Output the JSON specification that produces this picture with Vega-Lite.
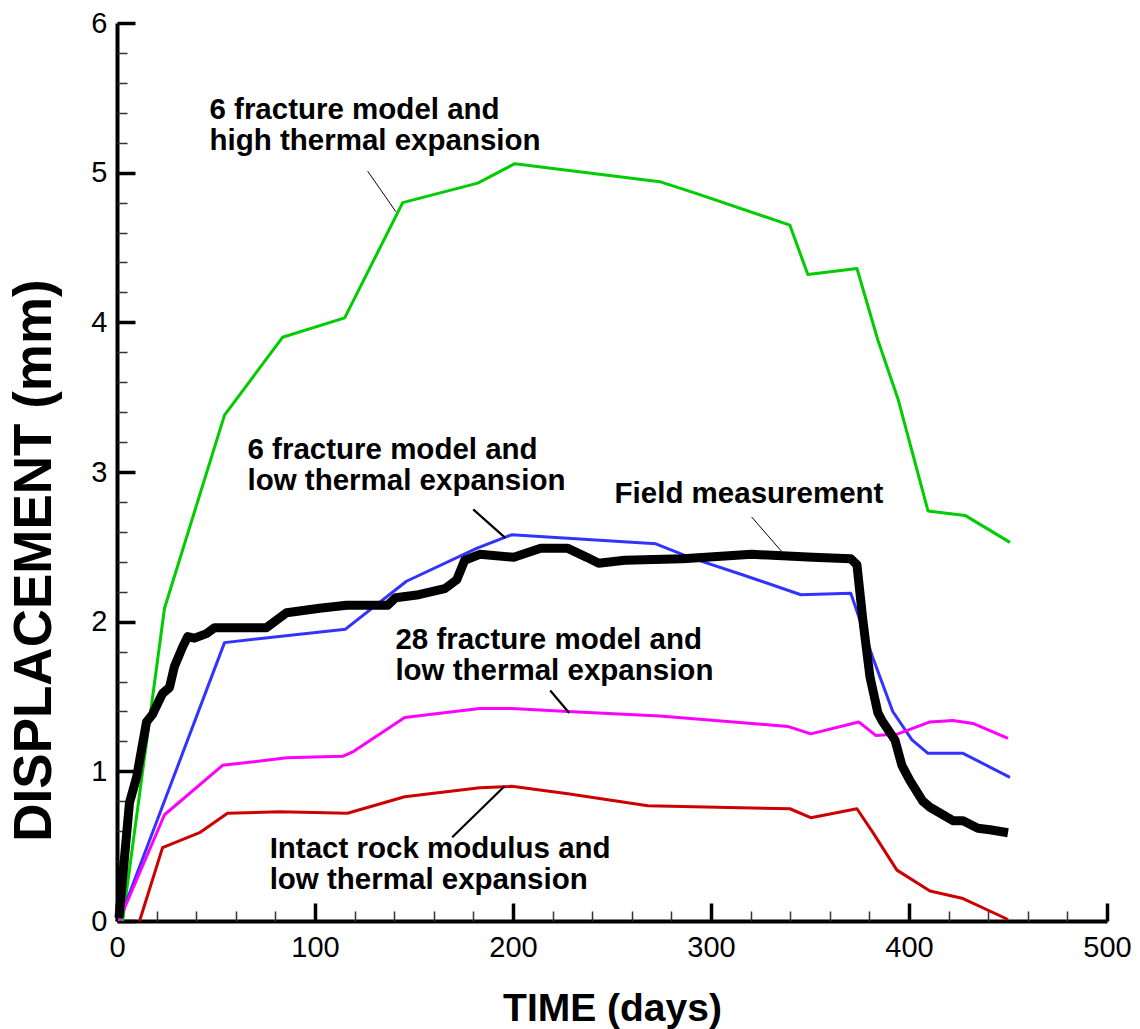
{
  "$schema": "https://vega.github.io/schema/vega-lite/v6.json",
  "width": 990,
  "height": 898,
  "autosize": "none",
  "padding": {"left": 117, "top": 23, "right": 33, "bottom": 108},
  "background": "white",
  "config": {"view": {"stroke": null}, "font": "Liberation Sans"},
  "datasets": {
    "curves": [
      {"series": "6 fracture, high thermal expansion", "day": 2.8, "mm": 0},
      {"series": "6 fracture, high thermal expansion", "day": 24, "mm": 2.09},
      {"series": "6 fracture, high thermal expansion", "day": 54.3, "mm": 3.38},
      {"series": "6 fracture, high thermal expansion", "day": 83.6, "mm": 3.9},
      {"series": "6 fracture, high thermal expansion", "day": 115, "mm": 4.03},
      {"series": "6 fracture, high thermal expansion", "day": 144.3, "mm": 4.8},
      {"series": "6 fracture, high thermal expansion", "day": 182.2, "mm": 4.93},
      {"series": "6 fracture, high thermal expansion", "day": 200.9, "mm": 5.06},
      {"series": "6 fracture, high thermal expansion", "day": 274.1, "mm": 4.94},
      {"series": "6 fracture, high thermal expansion", "day": 292.8, "mm": 4.86},
      {"series": "6 fracture, high thermal expansion", "day": 339.8, "mm": 4.65},
      {"series": "6 fracture, high thermal expansion", "day": 348.9, "mm": 4.32},
      {"series": "6 fracture, high thermal expansion", "day": 373.7, "mm": 4.36},
      {"series": "6 fracture, high thermal expansion", "day": 384.3, "mm": 3.88},
      {"series": "6 fracture, high thermal expansion", "day": 394.4, "mm": 3.49},
      {"series": "6 fracture, high thermal expansion", "day": 409.6, "mm": 2.74},
      {"series": "6 fracture, high thermal expansion", "day": 428.3, "mm": 2.71},
      {"series": "6 fracture, high thermal expansion", "day": 451, "mm": 2.53},

      {"series": "6 fracture, low thermal expansion", "day": 1, "mm": 0},
      {"series": "6 fracture, low thermal expansion", "day": 54.3, "mm": 1.86},
      {"series": "6 fracture, low thermal expansion", "day": 115.4, "mm": 1.95},
      {"series": "6 fracture, low thermal expansion", "day": 146.2, "mm": 2.27},
      {"series": "6 fracture, low thermal expansion", "day": 181.6, "mm": 2.49},
      {"series": "6 fracture, low thermal expansion", "day": 199.3, "mm": 2.58},
      {"series": "6 fracture, low thermal expansion", "day": 272.1, "mm": 2.52},
      {"series": "6 fracture, low thermal expansion", "day": 289.3, "mm": 2.43},
      {"series": "6 fracture, low thermal expansion", "day": 316.6, "mm": 2.31},
      {"series": "6 fracture, low thermal expansion", "day": 345.4, "mm": 2.18},
      {"series": "6 fracture, low thermal expansion", "day": 370.6, "mm": 2.19},
      {"series": "6 fracture, low thermal expansion", "day": 381.7, "mm": 1.76},
      {"series": "6 fracture, low thermal expansion", "day": 391.8, "mm": 1.4},
      {"series": "6 fracture, low thermal expansion", "day": 401.5, "mm": 1.21},
      {"series": "6 fracture, low thermal expansion", "day": 409.6, "mm": 1.12},
      {"series": "6 fracture, low thermal expansion", "day": 427.3, "mm": 1.12},
      {"series": "6 fracture, low thermal expansion", "day": 451, "mm": 0.96},

      {"series": "28 fracture, low thermal expansion", "day": 1, "mm": 0},
      {"series": "28 fracture, low thermal expansion", "day": 24, "mm": 0.71},
      {"series": "28 fracture, low thermal expansion", "day": 53.3, "mm": 1.04},
      {"series": "28 fracture, low thermal expansion", "day": 85.7, "mm": 1.09},
      {"series": "28 fracture, low thermal expansion", "day": 114, "mm": 1.1},
      {"series": "28 fracture, low thermal expansion", "day": 119, "mm": 1.13},
      {"series": "28 fracture, low thermal expansion", "day": 145.3, "mm": 1.36},
      {"series": "28 fracture, low thermal expansion", "day": 183.2, "mm": 1.42},
      {"series": "28 fracture, low thermal expansion", "day": 199.4, "mm": 1.42},
      {"series": "28 fracture, low thermal expansion", "day": 227.7, "mm": 1.4},
      {"series": "28 fracture, low thermal expansion", "day": 274.1, "mm": 1.37},
      {"series": "28 fracture, low thermal expansion", "day": 338.8, "mm": 1.3},
      {"series": "28 fracture, low thermal expansion", "day": 350.4, "mm": 1.25},
      {"series": "28 fracture, low thermal expansion", "day": 374.6, "mm": 1.33},
      {"series": "28 fracture, low thermal expansion", "day": 383.2, "mm": 1.24},
      {"series": "28 fracture, low thermal expansion", "day": 394.4, "mm": 1.25},
      {"series": "28 fracture, low thermal expansion", "day": 410.6, "mm": 1.33},
      {"series": "28 fracture, low thermal expansion", "day": 422.2, "mm": 1.34},
      {"series": "28 fracture, low thermal expansion", "day": 432.3, "mm": 1.32},
      {"series": "28 fracture, low thermal expansion", "day": 450, "mm": 1.22},

      {"series": "Intact rock modulus, low thermal expansion", "day": 11.4, "mm": 0},
      {"series": "Intact rock modulus, low thermal expansion", "day": 23, "mm": 0.49},
      {"series": "Intact rock modulus, low thermal expansion", "day": 41.7, "mm": 0.59},
      {"series": "Intact rock modulus, low thermal expansion", "day": 55.8, "mm": 0.72},
      {"series": "Intact rock modulus, low thermal expansion", "day": 82.1, "mm": 0.73},
      {"series": "Intact rock modulus, low thermal expansion", "day": 116.4, "mm": 0.72},
      {"series": "Intact rock modulus, low thermal expansion", "day": 145.3, "mm": 0.83},
      {"series": "Intact rock modulus, low thermal expansion", "day": 183.2, "mm": 0.89},
      {"series": "Intact rock modulus, low thermal expansion", "day": 199.4, "mm": 0.9},
      {"series": "Intact rock modulus, low thermal expansion", "day": 227.7, "mm": 0.85},
      {"series": "Intact rock modulus, low thermal expansion", "day": 268.1, "mm": 0.77},
      {"series": "Intact rock modulus, low thermal expansion", "day": 303, "mm": 0.76},
      {"series": "Intact rock modulus, low thermal expansion", "day": 339.8, "mm": 0.75},
      {"series": "Intact rock modulus, low thermal expansion", "day": 350.4, "mm": 0.69},
      {"series": "Intact rock modulus, low thermal expansion", "day": 373.7, "mm": 0.75},
      {"series": "Intact rock modulus, low thermal expansion", "day": 381.8, "mm": 0.59},
      {"series": "Intact rock modulus, low thermal expansion", "day": 393.9, "mm": 0.34},
      {"series": "Intact rock modulus, low thermal expansion", "day": 410.6, "mm": 0.2},
      {"series": "Intact rock modulus, low thermal expansion", "day": 427.3, "mm": 0.15},
      {"series": "Intact rock modulus, low thermal expansion", "day": 450, "mm": 0.01},

      {"series": "Field measurement", "day": 1, "mm": 0.02},
      {"series": "Field measurement", "day": 6.3, "mm": 0.79},
      {"series": "Field measurement", "day": 9.9, "mm": 0.96},
      {"series": "Field measurement", "day": 14.9, "mm": 1.33},
      {"series": "Field measurement", "day": 17.9, "mm": 1.38},
      {"series": "Field measurement", "day": 21.5, "mm": 1.48},
      {"series": "Field measurement", "day": 23, "mm": 1.52},
      {"series": "Field measurement", "day": 26.5, "mm": 1.56},
      {"series": "Field measurement", "day": 29, "mm": 1.7},
      {"series": "Field measurement", "day": 33.1, "mm": 1.83},
      {"series": "Field measurement", "day": 35.7, "mm": 1.9},
      {"series": "Field measurement", "day": 39.1, "mm": 1.89},
      {"series": "Field measurement", "day": 45.2, "mm": 1.92},
      {"series": "Field measurement", "day": 49.3, "mm": 1.96},
      {"series": "Field measurement", "day": 58.4, "mm": 1.96},
      {"series": "Field measurement", "day": 75.5, "mm": 1.96},
      {"series": "Field measurement", "day": 80.6, "mm": 2.01},
      {"series": "Field measurement", "day": 85.7, "mm": 2.06},
      {"series": "Field measurement", "day": 102.3, "mm": 2.09},
      {"series": "Field measurement", "day": 116, "mm": 2.11},
      {"series": "Field measurement", "day": 136.7, "mm": 2.11},
      {"series": "Field measurement", "day": 140.7, "mm": 2.16},
      {"series": "Field measurement", "day": 152.4, "mm": 2.18},
      {"series": "Field measurement", "day": 165.5, "mm": 2.22},
      {"series": "Field measurement", "day": 171.6, "mm": 2.28},
      {"series": "Field measurement", "day": 175.6, "mm": 2.41},
      {"series": "Field measurement", "day": 183.2, "mm": 2.45},
      {"series": "Field measurement", "day": 200.4, "mm": 2.43},
      {"series": "Field measurement", "day": 214, "mm": 2.49},
      {"series": "Field measurement", "day": 227.7, "mm": 2.49},
      {"series": "Field measurement", "day": 237.3, "mm": 2.43},
      {"series": "Field measurement", "day": 243.3, "mm": 2.39},
      {"series": "Field measurement", "day": 256.4, "mm": 2.41},
      {"series": "Field measurement", "day": 285.7, "mm": 2.42},
      {"series": "Field measurement", "day": 320.6, "mm": 2.45},
      {"series": "Field measurement", "day": 351.4, "mm": 2.43},
      {"series": "Field measurement", "day": 370.6, "mm": 2.42},
      {"series": "Field measurement", "day": 373.7, "mm": 2.38},
      {"series": "Field measurement", "day": 376.7, "mm": 2.01},
      {"series": "Field measurement", "day": 380.3, "mm": 1.63},
      {"series": "Field measurement", "day": 384.3, "mm": 1.39},
      {"series": "Field measurement", "day": 386.3, "mm": 1.34},
      {"series": "Field measurement", "day": 392.9, "mm": 1.21},
      {"series": "Field measurement", "day": 396.4, "mm": 1.04},
      {"series": "Field measurement", "day": 400.4, "mm": 0.94},
      {"series": "Field measurement", "day": 407, "mm": 0.8},
      {"series": "Field measurement", "day": 410.6, "mm": 0.76},
      {"series": "Field measurement", "day": 422.2, "mm": 0.67},
      {"series": "Field measurement", "day": 427.3, "mm": 0.67},
      {"series": "Field measurement", "day": 434.8, "mm": 0.62},
      {"series": "Field measurement", "day": 440.9, "mm": 0.61},
      {"series": "Field measurement", "day": 450, "mm": 0.59}
    ],
    "notes": [
      {"text": "6 fracture model and\nhigh thermal expansion", "day": 46.7, "mm": 5.36},
      {"text": "6 fracture model and\nlow thermal expansion", "day": 65.9, "mm": 3.09},
      {"text": "Field measurement", "day": 251.3, "mm": 2.79},
      {"text": "28 fracture model and\nlow thermal expansion", "day": 140.6, "mm": 1.82},
      {"text": "Intact rock modulus and\nlow thermal expansion", "day": 77.1, "mm": 0.42}
    ],
    "leaders": [
      {"note": "6 fracture, high thermal expansion", "day": 126.6, "mm": 5.01, "day2": 140.8, "mm2": 4.74},
      {"note": "6 fracture, low thermal expansion", "day": 179.9, "mm": 2.75, "day2": 196.1, "mm2": 2.56},
      {"note": "Field measurement", "day": 320.5, "mm": 2.7, "day2": 335.6, "mm2": 2.47},
      {"note": "28 fracture, low thermal expansion", "day": 218.8, "mm": 1.54, "day2": 228.4, "mm2": 1.39},
      {"note": "Intact rock modulus, low thermal expansion", "day": 169.3, "mm": 0.56, "day2": 195.7, "mm2": 0.9}
    ]
  },
  "layer": [
    {
      "encoding": {
        "x": {
          "field": "day",
          "type": "quantitative",
          "scale": {"domain": [0, 500], "nice": false, "zero": false},
          "axis": {
            "orient": "bottom",
            "title": "TIME (days)",
            "titleFont": "Liberation Sans",
            "titleFontWeight": "bold",
            "titleFontSize": 39,
            "titleColor": "black",
            "titleBaseline": "alphabetic",
            "titleY": 99,
            "values": [0, 100, 200, 300, 400, 500],
            "format": "d",
            "labelFont": "Liberation Sans",
            "labelFontSize": 29,
            "labelColor": "black",
            "labelPadding": 30,
            "labelOverlap": false,
            "labelFlush": false,
            "grid": false,
            "domainColor": "black",
            "domainWidth": 4,
            "tickColor": "black",
            "tickWidth": 3.5,
            "tickSize": -18
          }
        },
        "y": {
          "field": "mm",
          "type": "quantitative",
          "scale": {"domain": [0, 6], "nice": false, "zero": false},
          "axis": {
            "orient": "left",
            "title": "DISPLACEMENT (mm)",
            "titleFont": "Liberation Sans",
            "titleFontWeight": "bold",
            "titleFontSize": 53,
            "titleColor": "black",
            "titleBaseline": "alphabetic",
            "titleAngle": 270,
            "titleX": -67,
            "titleY": 537,
            "values": [0, 1, 2, 3, 4, 5, 6],
            "format": "d",
            "labelFont": "Liberation Sans",
            "labelFontSize": 29,
            "labelColor": "black",
            "labelPadding": 28,
            "labelOverlap": false,
            "labelFlush": false,
            "grid": false,
            "domainColor": "black",
            "domainWidth": 4,
            "tickColor": "black",
            "tickWidth": 3.5,
            "tickSize": -18
          }
        }
      },
      "layer": [
        {
          "data": {"name": "curves"},
          "transform": [{"filter": "datum.series !== 'Field measurement'"}],
          "mark": {"type": "line", "strokeWidth": 3, "strokeJoin": "round"},
          "encoding": {
            "color": {
              "field": "series",
              "type": "nominal",
              "scale": {
                "domain": ["6 fracture, high thermal expansion", "6 fracture, low thermal expansion", "28 fracture, low thermal expansion", "Intact rock modulus, low thermal expansion"],
                "range": ["#00cc00", "#3333ff", "#ff00ff", "#cc0000"]
              },
              "legend": null
            },
            "order": {"field": "day", "type": "quantitative"}
          }
        },
        {
          "data": {"name": "curves"},
          "transform": [{"filter": "datum.series === 'Field measurement'"}],
          "mark": {"type": "line", "strokeWidth": 9, "color": "black", "strokeJoin": "round"},
          "encoding": {"order": {"field": "day", "type": "quantitative"}}
        },
        {
          "data": {"name": "notes"},
          "mark": {"type": "text", "align": "left", "baseline": "alphabetic", "lineBreak": "\n", "lineHeight": 31, "font": "Liberation Sans", "fontWeight": "bold", "fontSize": 29.5, "color": "black"},
          "encoding": {"text": {"field": "text"}}
        }
      ]
    },
    {
      "data": {"name": "leaders"},
      "mark": {"type": "rule", "color": "black"},
      "encoding": {
        "x": {
          "field": "day",
          "type": "quantitative",
          "scale": {"domain": [0, 500], "nice": false, "zero": false},
          "axis": {
            "orient": "bottom",
            "title": null,
            "values": [20,40,60,80,120,140,160,180,220,240,260,280,320,340,360,380,420,440,460,480],
            "labels": false,
            "domain": false,
            "grid": false,
            "tickColor": "#333333",
            "tickWidth": 1.5,
            "tickSize": -10
          }
        },
        "y": {
          "field": "mm",
          "type": "quantitative",
          "scale": {"domain": [0, 6], "nice": false, "zero": false},
          "axis": {
            "orient": "left",
            "title": null,
            "values": [0.2,0.4,0.6,0.8,1.2,1.4,1.6,1.8,2.2,2.4,2.6,2.8,3.2,3.4,3.6,3.8,4.2,4.4,4.6,4.8,5.2,5.4,5.6,5.8],
            "labels": false,
            "domain": false,
            "grid": false,
            "tickColor": "#333333",
            "tickWidth": 1.5,
            "tickSize": -10
          }
        },
        "x2": {"field": "day2"},
        "y2": {"field": "mm2"},
        "strokeWidth": {"condition": {"test": "datum.note === '6 fracture, high thermal expansion' || datum.note === 'Field measurement'", "value": 1}, "value": 2.2}
      }
    }
  ],
  "resolve": {"axis": {"x": "independent", "y": "independent"}}
}
